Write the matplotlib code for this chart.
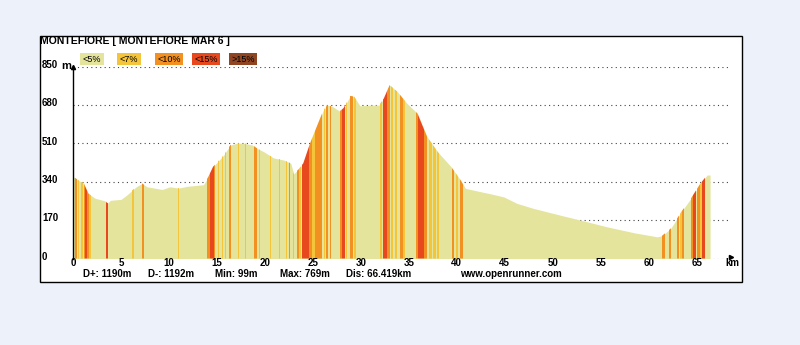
import matplotlib.pyplot as plt
import matplotlib.patches as mpatches
import numpy as np

# profil altimétrique (km, m)
dist_km = [0, 0.3, 0.8, 1.1, 1.6, 2.3, 3.3, 3.6, 3.9, 5.0, 5.6, 6.6, 7.2, 7.7, 9.3, 10.1, 11.0,
           11.9, 13.6, 14.1, 14.6, 15.7, 16.4, 17.1, 17.8, 18.7, 19.2, 19.9, 20.9, 22.0, 22.7,
           23.0, 23.5, 24.0, 24.7, 25.4, 26.1, 26.5, 27.0, 27.8, 28.2, 28.9, 29.3, 29.9, 31.0,
           31.9, 32.4, 33.0, 33.8, 34.8, 35.9, 36.9, 38.0, 39.4, 40.4, 40.9, 42.5, 43.7, 44.9,
           46.3, 48.0, 50.8, 52.9, 55.7, 58.5, 60.9, 61.4, 62.3, 63.4, 64.4, 65.4, 66.1, 66.4]
elev_m = [362, 355, 340, 335, 288, 267, 256, 245, 258, 262, 281, 318, 333, 318, 306, 318, 312,
          320, 327, 362, 407, 458, 503, 511, 511, 503, 488, 473, 446, 436, 422,
          375, 395, 422, 510, 584, 658, 680, 675, 653, 667, 721, 718, 677, 680,
          680, 710, 769, 740, 688, 643, 540, 473, 407, 347, 311, 296, 285, 273,
          244, 222, 192, 170, 140, 114, 96, 101, 133, 207, 266, 333, 370, 370]

# tronçons colorés par pente : (début km, fin km, classe)
bandes = [
    (0.2, 0.4, 2), (0.5, 0.6, 1), (0.8, 1.0, 1), (1.1, 1.2, 2), (1.2, 1.5, 3), (1.5, 1.7, 2),
    (1.7, 1.9, 1), (3.45, 3.7, 3), (6.2, 6.4, 1), (7.2, 7.4, 2), (10.9, 11.0, 1),
    (14.0, 14.3, 2), (14.3, 14.7, 3), (14.7, 14.85, 2), (15.1, 15.2, 1), (15.5, 15.6, 1),
    (15.8, 15.9, 1), (16.3, 16.5, 2), (17.2, 17.3, 1), (17.9, 18.0, 1), (18.9, 19.2, 2),
    (19.35, 19.45, 1), (20.55, 20.65, 1), (21.45, 21.55, 1), (22.25, 22.35, 1), (22.55, 22.65, 2),
    (22.9, 23.0, 1), (23.3, 23.6, 2), (23.6, 23.8, 1), (23.85, 24.6, 3), (24.6, 24.9, 2),
    (24.9, 25.2, 1), (25.2, 26.0, 2), (26.15, 26.3, 1), (26.4, 26.6, 2), (26.75, 26.9, 2),
    (27.8, 28.0, 2), (28.0, 28.3, 3), (28.45, 28.6, 1), (28.9, 29.2, 2), (29.25, 29.45, 1),
    (32.0, 32.2, 1), (32.3, 32.7, 3), (32.7, 33.0, 2), (33.15, 33.35, 1), (33.6, 33.75, 1),
    (34.1, 34.4, 2), (34.4, 34.6, 1), (35.8, 36.0, 2), (36.0, 36.6, 3), (36.6, 36.9, 2),
    (37.1, 37.4, 1), (37.5, 37.8, 1), (37.9, 38.1, 1), (39.5, 39.7, 2), (39.95, 40.1, 1),
    (40.3, 40.6, 2), (61.4, 61.7, 2), (62.1, 62.3, 2), (63.0, 63.2, 2), (63.3, 63.5, 1),
    (63.5, 63.7, 2), (64.4, 64.6, 2), (64.6, 64.9, 3), (65.0, 65.3, 2), (65.3, 65.55, 1),
    (65.6, 65.85, 3),
]

classes = ['<5%', '<7%', '<10%', '<15%', '>15%']
couleurs = ['#e4e49d', '#f4c43a', '#f29122', '#e8481e', '#8f4522']

y_ticks = [0, 170, 340, 510, 680, 850]
x_ticks = list(range(0, 70, 5))
titre = 'MONTEFIORE [ MONTEFIORE MAR 6 ]'
stats = [('D+: 1190m', 83), ('D-: 1192m', 148), ('Min: 99m', 215), ('Max: 769m', 280),
         ('Dis: 66.419km', 346), ('www.openrunner.com', 460)]

W, H = 800, 345
police = 'Liberation Sans'


def fx(px):
    return px / W


def fy(py):
    return 1 - py / H


fig = plt.figure(figsize=(8, 3.45), dpi=100)
fig.patch.set_facecolor('#edf1fa')

# cadre blanc
fig.patches.append(mpatches.Rectangle((fx(40), fy(282)), fx(742) - fx(40), fy(36) - fy(282),
                                      transform=fig.transFigure, facecolor='white',
                                      edgecolor='black', linewidth=1, zorder=-5))

ax = fig.add_axes([fx(73), fy(258.5), fx(735) - fx(73), fy(66.8) - fy(258.5)])
ax.set_zorder(1)
ax.set_facecolor('none')
ax.set_xlim(0, 69)
ax.set_ylim(0, 850)

for y in y_ticks:
    ax.plot([0, 68.4], [y, y], linestyle=(0, (1, 3)), color='#444444', lw=0.8, zorder=1)

profil = ax.fill_between(dist_km, elev_m, 0, color=couleurs[0], lw=0, zorder=2)
chemin = profil.get_paths()[0]
for debut, fin, c in bandes:
    sp = ax.axvspan(debut, fin, color=couleurs[c], lw=0, zorder=3)
    sp.set_clip_path(chemin, ax.transData)

for s in ['top', 'right', 'bottom']:
    ax.spines[s].set_visible(False)
ax.spines['left'].set_linewidth(1)
ax.set_xticks([])
ax.set_yticks([])

# flèches des axes
ax.plot([0], [850], marker='^', markersize=3, color='black', clip_on=False, zorder=5)
ax.plot([68.6], [6], marker='>', markersize=3, color='black', clip_on=False, zorder=5)

# étiquettes de graduation
for x in x_ticks:
    ax.text(x, -22, str(x), ha='center', va='center', fontsize=7, fontweight='bold',
            family=police, clip_on=False)
ax.text(68.7, -22, 'km', ha='center', va='center', fontsize=7, fontweight='bold',
        family=police, clip_on=False)
for y in y_ticks:
    fig.text(fx(42), fy(258.5 - y / 850 * 191.7) + 0.005, str(y), ha='left', va='center',
             fontsize=7, fontweight='bold', family=police)
fig.text(fx(61), fy(66), 'm', ha='left', va='center', fontsize=8, fontweight='bold',
         family=police)

# titre
fig.text(fx(40), fy(41), titre, ha='left', va='center', fontsize=7.5, fontweight='bold',
         family=police)

# légende des pentes
legende_x = [80, 117, 155, 192, 229]
legende_w = [24, 24, 28, 28, 28]
for lab, col, x0, w in zip(classes, couleurs, legende_x, legende_w):
    fig.patches.append(mpatches.Rectangle((fx(x0), fy(65)), w / W, 12 / H,
                                          transform=fig.transFigure, facecolor=col,
                                          edgecolor='none', zorder=2))
    fig.text(fx(x0 + w / 2), fy(59), lab, ha='center', va='center', fontsize=6.5,
             color='black', family=police, zorder=3)

# statistiques
for txt, x0 in stats:
    fig.text(fx(x0), fy(274), txt, ha='left', va='center', fontsize=7, fontweight='bold',
             family=police)

fig.savefig('out.png', dpi=100, facecolor=fig.get_facecolor())
